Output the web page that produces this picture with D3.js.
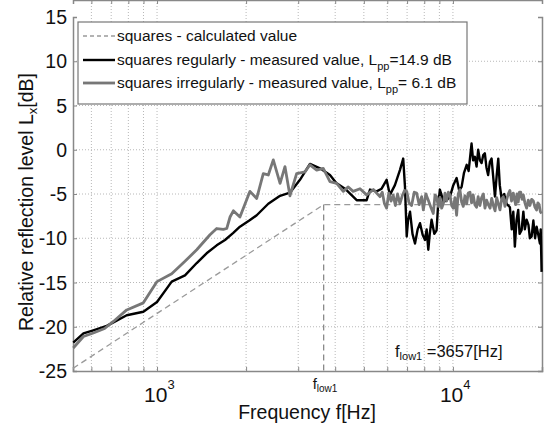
<!DOCTYPE html>
<html>
<head>
<meta charset="utf-8">
<script src="https://cdn.jsdelivr.net/npm/d3@7"></script>
<style>
  body { margin: 0; background: #fff; }
  svg text { font-family: "Liberation Sans", Arial, sans-serif; fill: #111; }
</style>
</head>
<body>
<div id="chart"></div>
<script>
// calculated value (dashed), [frequency Hz, level dB]
var calcPoints = [[520, -24.7], [3657, -6.2], [20000, -6.2]];

// squares regularly - measured (black)
var regularPoints = [
  [521, -21.8], [564, -20.75], [609, -20.4], [676, -19.9], [712, -19.5], [790, -18.7], [899, -18.3],
  [1000, -17.2], [1121, -14.9], [1243, -14.2], [1362, -12.8], [1471, -11.7], [1591, -10.8], [1697, -10.2],
  [1810, -9.4], [1906, -8.7], [2050, -8.0], [2172, -7.4], [2377, -6.1], [2605, -5.2], [2813, -4.85],
  [3041, -3.4], [3287, -1.6], [3554, -2.1], [3841, -2.85], [4047, -3.8], [4317, -4.4], [4729, -5.7],
  [5110, -5.7], [5245, -4.5], [5522, -4.7], [5741, -4.4], [5969, -3.4], [6124, -5.1], [6367, -4.0],
  [6620, -2.3], [6792, -1.0], [6886, -4.2], [6980, -9.8], [7050, -8.0], [7161, -7.0], [7300, -9.5],
  [7445, -10.6], [7600, -9.0], [7741, -8.3], [7900, -9.6], [8048, -10.2], [8150, -9.0], [8256, -11.3],
  [8350, -9.5], [8470, -7.9], [8650, -9.5], [8806, -9.1], [8900, -6.5], [9034, -4.5], [9300, -5.9],
  [9522, -5.7], [9772, -5.3], [10030, -4.0], [10290, -3.2], [10500, -4.6], [10700, -4.2], [10900, -2.6],
  [11130, -1.7], [11300, -2.4], [11410, -1.1], [11560, 0.7], [11700, -1.2], [11860, -0.8], [12020, -1.9],
  [12170, 0.0], [12340, -1.2], [12500, -1.5], [12660, -0.6], [12820, -0.4], [12980, -2.0], [13150, -2.85],
  [13330, -1.4], [13510, -1.0], [13870, -5.3], [14050, -3.0], [14230, -1.0], [14400, -4.0], [14600, -5.5],
  [14900, -5.0], [15180, -6.1], [15580, -6.5], [15800, -9.0], [16000, -7.0], [16190, -10.95], [16400, -8.0],
  [16620, -6.8], [16800, -9.5], [17060, -9.1], [17300, -7.0], [17500, -9.0], [17740, -7.9], [18000, -8.5],
  [18200, -10.0], [18450, -9.8], [18700, -8.0], [18950, -10.0], [19180, -8.7], [19400, -9.5], [19680, -10.6],
  [19800, -9.0], [19940, -13.8]
];

// squares irregularly - measured (gray)
var irregularPoints = [
  [521, -22.4], [564, -21.1], [609, -20.7], [665, -20.2], [712, -19.4], [790, -18.1], [899, -17.3],
  [1000, -14.9], [1121, -14.0], [1243, -12.6], [1362, -11.3], [1510, -9.6], [1591, -8.9], [1675, -9.0],
  [1720, -8.9], [1765, -7.6], [1811, -6.9], [1906, -7.6], [2061, -4.7], [2172, -5.5], [2286, -2.7],
  [2377, -2.85], [2471, -1.15], [2605, -3.8], [2706, -1.9], [2813, -5.2], [2963, -2.7], [3162, -2.5],
  [3287, -1.7], [3464, -2.3], [3646, -2.1], [3841, -3.6], [4047, -3.8], [4259, -4.7], [4429, -4.2],
  [4600, -4.7], [4852, -4.4], [5110, -5.1], [5383, -4.5], [5665, -5.3], [5770, -4.8], [5870, -6.1],
  [5969, -6.6], [6070, -4.9], [6180, -5.8], [6280, -5.1], [6390, -6.3], [6500, -5.0], [6620, -6.1],
  [6740, -5.2], [6860, -4.6], [6980, -4.7], [7110, -6.0], [7250, -6.3], [7400, -4.8], [7540, -4.9],
  [7690, -6.2], [7840, -5.3], [7942, -6.8], [8100, -5.0], [8256, -5.7], [8420, -6.5], [8583, -7.2],
  [8700, -5.1], [8806, -5.3], [8920, -6.4], [9040, -5.4], [9160, -6.6], [9280, -6.1], [9400, -4.9],
  [9520, -5.8], [9650, -4.8], [9772, -5.1], [9900, -6.3], [10030, -6.6], [10160, -5.4], [10290, -7.4],
  [10420, -5.0], [10560, -4.5], [10700, -5.9], [10840, -6.4], [10980, -5.2], [11130, -6.1], [11270, -4.9],
  [11420, -4.8], [11560, -6.0], [11710, -5.1], [11860, -6.2], [12020, -6.5], [12170, -5.3], [12340, -6.3],
  [12500, -5.4], [12670, -5.0], [12830, -6.6], [13000, -5.7], [13170, -6.2], [13350, -6.6], [13520, -5.5],
  [13700, -6.3], [13880, -6.9], [14060, -5.4], [14240, -6.1], [14420, -6.8], [14610, -5.6], [14800, -5.3],
  [14990, -6.4], [15180, -5.7], [15380, -5.0], [15580, -4.6], [15780, -5.8], [15990, -4.9], [16140, -5.6],
  [16300, -6.2], [16460, -5.0], [16620, -5.9], [16780, -4.8], [16950, -4.8], [17120, -5.6], [17290, -5.1],
  [17510, -6.0], [17740, -6.6], [17970, -5.7], [18200, -6.3], [18450, -5.6], [18700, -5.8], [18940, -6.5],
  [19180, -6.8], [19370, -6.0], [19560, -6.2], [19750, -7.0], [19940, -7.2]
];

var yTicks = [15, 10, 5, 0, -5, -10, -15, -20, -25];
var yGrid = [10, 5, 0, -5, -10, -15, -20];
var xGrid = [600, 700, 800, 900, 1000, 2000, 3000, 4000, 5000, 6000, 7000, 8000, 9000, 10000];
var xDecades = [{ value: 1000, base: "10", exp: "3" }, { value: 10000, base: "10", exp: "4" }];
var fLow = 3657;

var W = 544, H = 423;
var svg = d3.select("#chart").append("svg").attr("width", W).attr("height", H);

var x = d3.scaleLog().domain([520, 20000]).range([73, 542]);
var y = d3.scaleLinear().domain([-25, 15]).range([371, 17]);

var left = x.range()[0], right = x.range()[1], top = y.range()[1], bottom = y.range()[0];

// grid
svg.append("g").selectAll("line").data(xGrid).enter().append("line")
  .attr("x1", d => x(d)).attr("x2", d => x(d)).attr("y1", top).attr("y2", bottom)
  .attr("stroke", "#b8b8b8").attr("stroke-width", 1).attr("stroke-dasharray", "1,2");
svg.append("g").selectAll("line").data(yGrid).enter().append("line")
  .attr("x1", left).attr("x2", right).attr("y1", d => y(d)).attr("y2", d => y(d))
  .attr("stroke", "#b8b8b8").attr("stroke-width", 1).attr("stroke-dasharray", "1,2");

// axes with inward ticks
svg.append("g").attr("transform", "translate(0," + bottom + ")")
  .call(d3.axisBottom(x).tickValues(xGrid).tickSize(-4).tickFormat(""));
svg.append("g").attr("transform", "translate(0," + top + ")")
  .call(d3.axisTop(x).tickValues(xGrid).tickSize(-4).tickFormat(""));
svg.append("g").attr("transform", "translate(" + left + ",0)")
  .call(d3.axisLeft(y).tickValues(yTicks).tickSize(-4).tickFormat(""));
svg.append("g").attr("transform", "translate(" + right + ",0)")
  .call(d3.axisRight(y).tickValues(yTicks).tickSize(-4).tickFormat(""));
svg.selectAll(".domain").attr("stroke", "#888").attr("stroke-width", 1.5);
svg.selectAll(".tick line").attr("stroke", "#888");

// y tick labels
svg.append("g").selectAll("text").data(yTicks).enter().append("text")
  .attr("x", left - 6).attr("y", d => y(d) + 7)
  .attr("text-anchor", "end").attr("font-size", 19.5).text(d => d);

// x decade labels
var dec = svg.append("g").selectAll("text").data(xDecades).enter().append("text")
  .attr("x", d => x(d.value) - 13).attr("y", 402).attr("font-size", 21);
dec.append("tspan").text(d => d.base);
dec.append("tspan").attr("dy", -13).attr("font-size", 13).text(d => d.exp);

// f_low1 label under axis
var fl = svg.append("text").attr("x", x(fLow) - 11).attr("y", 389).attr("font-size", 15);
fl.append("tspan").text("f");
fl.append("tspan").attr("dy", 3).attr("font-size", 10).text("low1");

// axis titles
svg.append("text").attr("x", 307).attr("y", 419).attr("text-anchor", "middle")
  .attr("font-size", 19.5).text("Frequency f[Hz]");
var yl = svg.append("text").attr("transform", "translate(33,202) rotate(-90)")
  .attr("text-anchor", "middle").attr("font-size", 19.5);
yl.append("tspan").text("Relative reflection level L");
yl.append("tspan").attr("dy", 4).attr("font-size", 13).text("x");
yl.append("tspan").attr("dy", -4).text("[dB]");

// curves
var line = d3.line().x(d => x(d[0])).y(d => y(d[1]));

svg.append("path").datum(calcPoints).attr("d", line).attr("fill", "none")
  .attr("stroke", "#9a9a9a").attr("stroke-width", 1.3).attr("stroke-dasharray", "6,4");
svg.append("line").attr("x1", x(fLow)).attr("x2", x(fLow)).attr("y1", y(-6.2)).attr("y2", bottom)
  .attr("stroke", "#8a8a8a").attr("stroke-width", 1.3).attr("stroke-dasharray", "6,4");

svg.append("path").datum(regularPoints).attr("d", line).attr("fill", "none")
  .attr("stroke", "#000").attr("stroke-width", 2.4).attr("stroke-linejoin", "round");
svg.append("path").datum(irregularPoints).attr("d", line).attr("fill", "none")
  .attr("stroke", "#777").attr("stroke-width", 2.8).attr("stroke-linejoin", "round");

// annotation
var ann = svg.append("text").attr("x", 395).attr("y", 357).attr("font-size", 16.5);
ann.append("tspan").text("f");
ann.append("tspan").attr("dy", 3).attr("font-size", 11).text("low1");
ann.append("tspan").attr("dy", -3).text(" =3657[Hz]");

// legend
var legend = svg.append("g");
legend.append("rect").attr("x", 78).attr("y", 22).attr("width", 389).attr("height", 82)
  .attr("fill", "#fff").attr("stroke", "#777").attr("stroke-width", 1.2);
var rows = [
  { y: 36, stroke: "#9a9a9a", w: 1.3, dash: "4,3", parts: ["squares - calculated value"] },
  { y: 60, stroke: "#000", w: 2.4, dash: null, parts: ["squares regularly - measured value, L", "pp", "=14.9 dB"] },
  { y: 83, stroke: "#777", w: 2.8, dash: null, parts: ["squares irregularly - measured value, L", "pp", "= 6.1 dB"] }
];
rows.forEach(function(r) {
  legend.append("line").attr("x1", 83).attr("x2", 115).attr("y1", r.y).attr("y2", r.y)
    .attr("stroke", r.stroke).attr("stroke-width", r.w).attr("stroke-dasharray", r.dash);
  var t = legend.append("text").attr("x", 117).attr("y", r.y + 5).attr("font-size", 15.5);
  t.append("tspan").text(r.parts[0]);
  if (r.parts.length > 1) {
    t.append("tspan").attr("dy", 5).attr("font-size", 11).text(r.parts[1]);
    t.append("tspan").attr("dy", -5).text(r.parts[2]);
  }
});
</script>
</body>
</html>
